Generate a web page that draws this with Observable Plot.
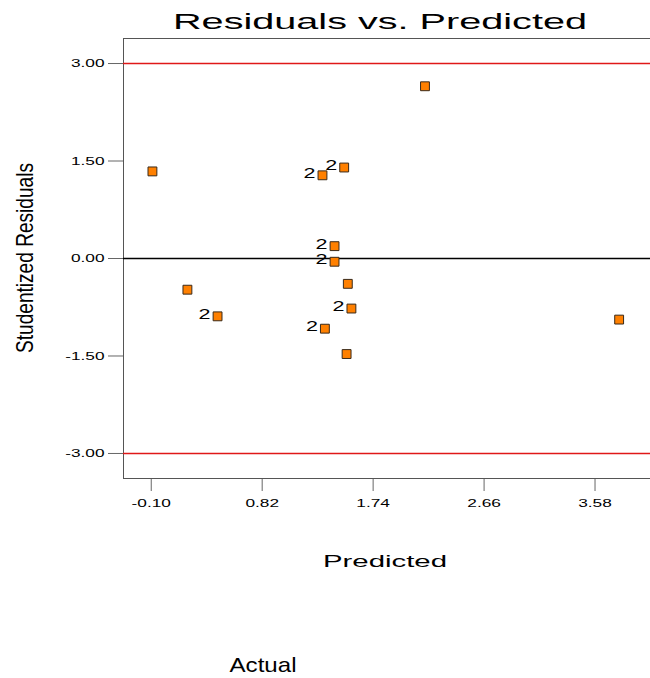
<!DOCTYPE html>
<html>
<head>
<meta charset="utf-8">
<script src="https://cdn.jsdelivr.net/npm/d3@7"></script>
<script src="https://cdn.jsdelivr.net/npm/@observablehq/plot@0.6"></script>
<style>
  html, body { margin: 0; padding: 0; background: #fff; }
  #chart { width: 650px; height: 678px; }
</style>
</head>
<body>
<div id="chart"></div>
<script>
// ---- data ----
const predicted = [-0.09, 0.20, 0.45, 1.32, 1.50, 1.42, 1.42, 1.53, 1.56, 1.34, 1.52, 2.17, 3.78];
const residuals = [1.34, -0.48, -0.89, 1.28, 1.40, 0.19, -0.05, -0.39, -0.77, -1.08, -1.47, 2.65, -0.94];
const counts    = [1, 1, 2, 2, 2, 2, 2, 1, 2, 2, 1, 1, 1];
const xTicks = [-0.10, 0.82, 1.74, 2.66, 3.58];
const yTicks = [-3.00, -1.50, 0.00, 1.50, 3.00];
const limits = [-3, 3];
const title = "Residuals vs. Predicted";
const xLabel = "Predicted";
const yLabel = "Studentized Residuals";
const footLabel = "Actual";

const points = predicted.map((p, i) => ({p, r: residuals[i], n: counts[i]}));
const labelled = points.filter(d => d.n > 1);

const font = "'Liberation Sans', Arial, sans-serif";
const yDomain = [-3.385, 3.385];
const xDomain = [-0.33, 4.04];
const fmt = d => d.toFixed(2);

const plot = Plot.plot({
  width: 650,
  height: 678,
  marginTop: 38,
  marginBottom: 200,
  marginLeft: 123,
  marginRight: 0,
  style: {fontFamily: font, fontSize: "11.5px", background: "#fff", color: "#000"},
  x: {domain: xDomain, label: null},
  y: {domain: yDomain, label: null},
  marks: [
    Plot.axisX({ticks: xTicks, tickFormat: fmt, tickSize: 13, tickPadding: 7, stroke: "#666", label: null, fontSize: 11.5, className: "tickx"}),
    Plot.axisY({ticks: yTicks, tickFormat: fmt, tickSize: 15, tickPadding: 4, stroke: "#666", label: null, fontSize: 11.5, className: "ticky"}),
    Plot.ruleY([yDomain[1], yDomain[0]], {stroke: "#555", strokeWidth: 1}),
    Plot.ruleX([xDomain[0]], {stroke: "#555", strokeWidth: 1}),
    Plot.ruleY(limits, {stroke: "#e01818", strokeWidth: 1.3}),
    Plot.ruleY([0], {stroke: "#000", strokeWidth: 1.4}),
    Plot.dot(points, {x: "p", y: "r", symbol: "square", r: 5, fill: "#ff8000", stroke: "#3a2a1a", strokeWidth: 1}),
    Plot.text(labelled, {x: "p", y: "r", text: d => String(d.n), textAnchor: "end", dx: -7, dy: -2, fontSize: 14, fill: "#000", className: "countlbl"})
  ]
});

document.getElementById("chart").appendChild(plot);
const svg = d3.select(plot);

// horizontally stretched text, as in the reference
svg.selectAll(".countlbl text").attr("textLength", 12).attr("lengthAdjust", "spacingAndGlyphs");
svg.selectAll(".tickx text, .ticky text").each(function() {
  const w = this.getComputedTextLength();
  d3.select(this).attr("textLength", (w * 1.5).toFixed(1)).attr("lengthAdjust", "spacingAndGlyphs");
});

// titles
svg.append("text").text(title)
  .attr("x", 380).attr("y", 28.5).attr("text-anchor", "middle")
  .attr("font-family", font).attr("font-size", 22.5)
  .attr("textLength", 414).attr("lengthAdjust", "spacingAndGlyphs");

svg.append("text").text(xLabel)
  .attr("x", 385).attr("y", 567).attr("text-anchor", "middle")
  .attr("font-family", font).attr("font-size", 17)
  .attr("textLength", 124).attr("lengthAdjust", "spacingAndGlyphs");

svg.append("text").text(footLabel)
  .attr("x", 263).attr("y", 672).attr("text-anchor", "middle")
  .attr("font-family", font).attr("font-size", 21)
  .attr("textLength", 67).attr("lengthAdjust", "spacingAndGlyphs");

svg.append("text").text(yLabel)
  .attr("transform", "translate(33,258) rotate(-90)").attr("text-anchor", "middle")
  .attr("font-family", font).attr("font-size", 24)
  .attr("textLength", 190).attr("lengthAdjust", "spacingAndGlyphs");
</script>
</body>
</html>
